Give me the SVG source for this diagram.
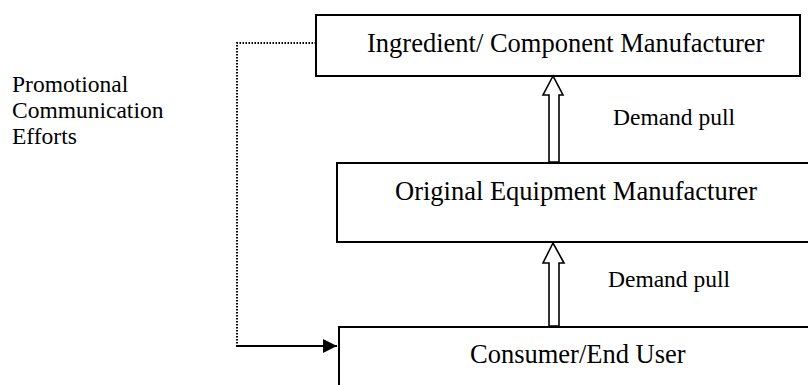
<svg xmlns="http://www.w3.org/2000/svg" width="808" height="385" viewBox="0 0 808 385">
  <style>
    .box { fill: #fff; stroke: #000; stroke-width: 2; }
    .label { font-family: "Liberation Serif", "Times New Roman", serif; font-size: 26.5px; fill: #000; }
    .note { font-family: "Liberation Serif", "Times New Roman", serif; font-size: 23.5px; fill: #000; }
    .pull { fill: #fff; stroke: #000; stroke-width: 1.6; stroke-linejoin: miter; }
    .dotted { fill: none; stroke: #000; stroke-width: 2; stroke-dasharray: 1.5 1.5; }
    .solid { fill: none; stroke: #000; stroke-width: 2; }
  </style>
  <defs>
    <marker id="arrowhead" viewBox="0 0 10 10" refX="10" refY="5" markerWidth="17" markerHeight="14" markerUnits="userSpaceOnUse" orient="auto">
      <path d="M0,0 L10,5 L0,10 Z" fill="#000"/>
    </marker>
  </defs>
  <rect width="808" height="385" fill="#fff"/>

  <!-- side note -->
  <g id="promo-label">
    <text class="note" x="12" y="92">Promotional</text>
    <text class="note" x="12" y="118">Communication</text>
    <text class="note" x="12" y="144">Efforts</text>
  </g>

  <g id="ingredient-manufacturer">
    <rect class="box" x="316" y="15" width="484" height="61"/>
    <text class="label" x="367" y="52">Ingredient/ Component Manufacturer</text>
  </g>

  <g id="oem">
    <rect class="box" x="337" y="163" width="478" height="79"/>
    <text class="label" x="395" y="200">Original Equipment Manufacturer</text>
  </g>

  <g id="consumer">
    <rect class="box" x="339" y="327" width="476" height="70"/>
    <text class="label" x="470" y="363">Consumer/End User</text>
  </g>

  <g id="connectors">
    <!-- promotional communication path (dotted) ending in solid arrow -->
    <polyline class="dotted" points="316,43 237,43 237,346"/>
    <line class="solid" x1="236" y1="346" x2="337" y2="346" marker-end="url(#arrowhead)"/>
    <!-- demand pull arrows -->
    <polygon class="pull" points="553,76 543,95 549,95 549,162 559,162 559,95 563,95"/>
    <text class="note" x="613" y="125">Demand pull</text>
    <polygon class="pull" points="553,243 543,263 549,263 549,326 559,326 559,263 564,263"/>
    <text class="note" x="608" y="287">Demand pull</text>
  </g>
</svg>
